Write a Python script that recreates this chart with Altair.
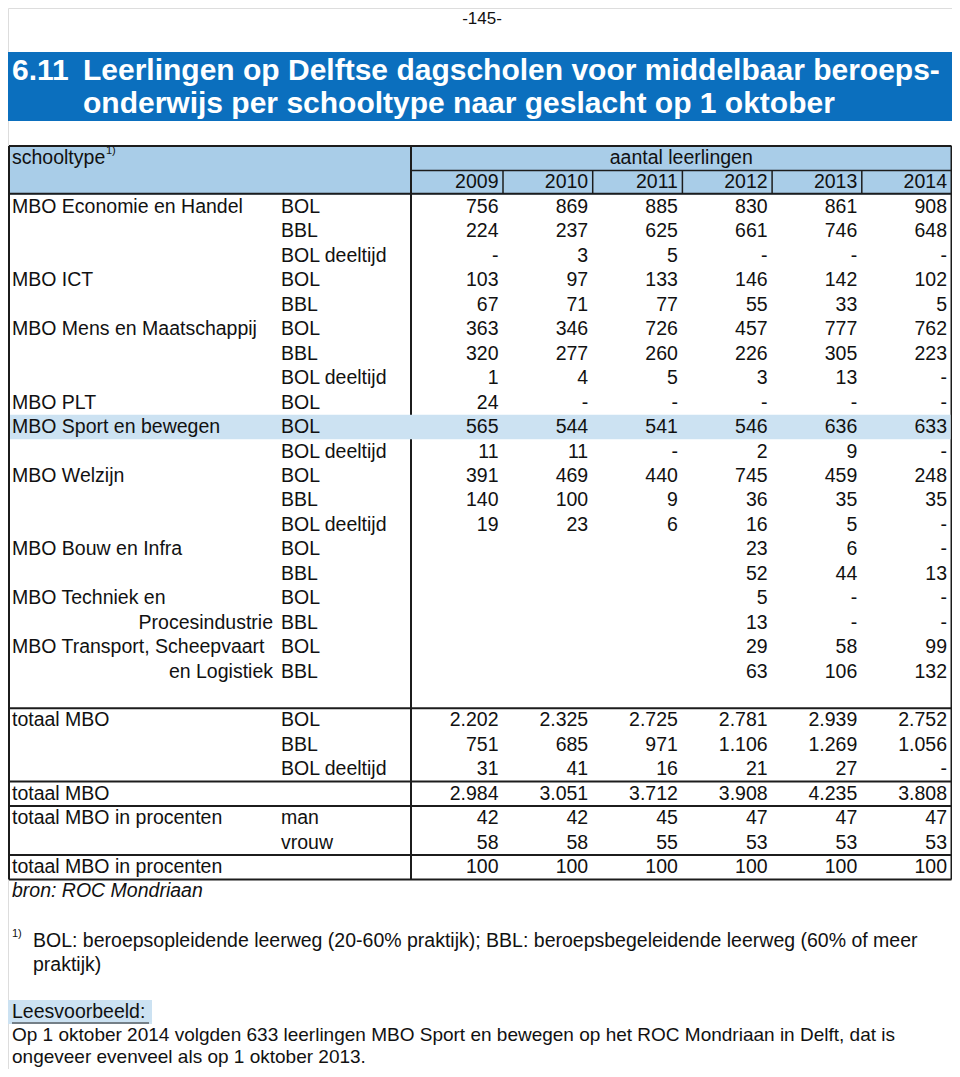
import altair as alt
import pandas as pd

# ---------------- data ----------------
years = ["2009", "2010", "2011", "2012", "2013", "2014"]

schooltype = ["MBO Economie en Handel", "", "", "MBO ICT", "", "MBO Mens en Maatschappij", "", "",
              "MBO PLT", "MBO Sport en bewegen", "", "MBO Welzijn", "", "", "MBO Bouw en Infra", "",
              "MBO Techniek en", "Procesindustrie", "MBO Transport, Scheepvaart", "en Logistiek"]
leerweg = ["BOL", "BBL", "BOL deeltijd", "BOL", "BBL", "BOL", "BBL", "BOL deeltijd", "BOL", "BOL",
           "BOL deeltijd", "BOL", "BBL", "BOL deeltijd", "BOL", "BBL", "BOL", "BBL", "BOL", "BBL"]
right_aligned_labels = ["Procesindustrie", "en Logistiek"]

v2009 = ["756", "224", "-", "103", "67", "363", "320", "1", "24", "565", "11", "391", "140", "19", "", "", "", "", "", ""]
v2010 = ["869", "237", "3", "97", "71", "346", "277", "4", "-", "544", "11", "469", "100", "23", "", "", "", "", "", ""]
v2011 = ["885", "625", "5", "133", "77", "726", "260", "5", "-", "541", "-", "440", "9", "6", "", "", "", "", "", ""]
v2012 = ["830", "661", "-", "146", "55", "457", "226", "3", "-", "546", "2", "745", "36", "16", "23", "52", "5", "13", "29", "63"]
v2013 = ["861", "746", "-", "142", "33", "777", "305", "13", "-", "636", "9", "459", "35", "5", "6", "44", "-", "-", "58", "106"]
v2014 = ["908", "648", "-", "102", "5", "762", "223", "-", "-", "633", "-", "248", "35", "-", "-", "13", "-", "-", "99", "132"]

tot_label1 = ["totaal MBO", "", "", "totaal MBO", "totaal MBO in procenten", "", "totaal MBO in procenten"]
tot_label2 = ["BOL", "BBL", "BOL deeltijd", "", "man", "vrouw", ""]
t2009 = ["2.202", "751", "31", "2.984", "42", "58", "100"]
t2010 = ["2.325", "685", "41", "3.051", "42", "58", "100"]
t2011 = ["2.725", "971", "16", "3.712", "45", "55", "100"]
t2012 = ["2.781", "1.106", "21", "3.908", "47", "53", "100"]
t2013 = ["2.939", "1.269", "27", "4.235", "47", "53", "100"]
t2014 = ["2.752", "1.056", "-", "3.808", "47", "53", "100"]

page_number = "-145-"
title_num = "6.11"
title_lines = ["Leerlingen op Delftse dagscholen voor middelbaar beroeps-",
               "onderwijs per schooltype naar geslacht op 1 oktober"]
header_left = "schooltype"
header_sup = "1)"
header_top = "aantal leerlingen"
source = "bron: ROC Mondriaan"
footnote = ["BOL: beroepsopleidende leerweg (20-60% praktijk); BBL: beroepsbegeleidende leerweg (60% of meer",
            "praktijk)"]
example_head = "Leesvoorbeeld:"
example_text = ["Op 1 oktober 2014 volgden 633 leerlingen MBO Sport en bewegen op het ROC Mondriaan in Delft, dat is",
                "ongeveer evenveel als op 1 oktober 2013."]
highlight_row = "MBO Sport en bewegen"

# ---------------- layout ----------------
FONT = "Liberation Sans"
FS = 19.5
ROW_Y0, ROW_H = 207.0, 24.45
LEFT, RIGHT, MID = 9.0, 951.5, 411.0
SEP0, SEP_STEP = 503.0, 89.7
LBL1_X, LBL2_X, LBL1_RIGHT = 12.0, 281.0, 273.0
TOP_HEADER, HEADER_MID = 146.0, 170.5

def row_y(i):
    return ROW_Y0 + i * ROW_H

def col_right(j):
    return SEP0 + j * SEP_STEP - 4.5

body_cols = [v2009, v2010, v2011, v2012, v2013, v2014]
tot_cols = [t2009, t2010, t2011, t2012, t2013, t2014]
n_body = len(schooltype)
tot_start = n_body + 1
last_row = tot_start + len(tot_label1) - 1

left_txt, right_txt, center_txt = [], [], []

# header
left_txt.append(dict(t=header_left, x=LBL1_X, y=158, s=FS))
left_txt.append(dict(t=header_sup, x=LBL1_X + 94, y=151, s=11))
center_txt.append(dict(t=header_top, x=(MID + RIGHT) / 2, y=158, s=FS))
for j, yr in enumerate(years):
    right_txt.append(dict(t=yr, x=col_right(j), y=182, s=FS))

# body rows
for i in range(n_body):
    y = row_y(i)
    lab = schooltype[i]
    if lab in right_aligned_labels:
        right_txt.append(dict(t=lab, x=LBL1_RIGHT, y=y, s=FS))
    elif lab:
        left_txt.append(dict(t=lab, x=LBL1_X, y=y, s=FS))
    left_txt.append(dict(t=leerweg[i], x=LBL2_X, y=y, s=FS))
    for j, col in enumerate(body_cols):
        if col[i]:
            right_txt.append(dict(t=col[i], x=col_right(j), y=y, s=FS))

# totals
for k in range(len(tot_label1)):
    y = row_y(tot_start + k)
    if tot_label1[k]:
        left_txt.append(dict(t=tot_label1[k], x=LBL1_X, y=y, s=FS))
    if tot_label2[k]:
        left_txt.append(dict(t=tot_label2[k], x=LBL2_X, y=y, s=FS))
    for j, col in enumerate(tot_cols):
        right_txt.append(dict(t=col[k], x=col_right(j), y=y, s=FS))

# footnotes
left_txt.append(dict(t=header_sup, x=LBL1_X, y=934, s=11))
for k, line in enumerate(footnote):
    left_txt.append(dict(t=line, x=33, y=941 + k * 24.0, s=FS))
left_txt.append(dict(t=example_head, x=LBL1_X, y=1012, s=FS))
for k, line in enumerate(example_text):
    left_txt.append(dict(t=line, x=LBL1_X, y=1035 + k * 22.0, s=19))

center_txt.append(dict(t=page_number, x=482, y=19, s=17))

title_txt = [dict(t=title_num, x=12, y=71, s=30)]
for k, line in enumerate(title_lines):
    title_txt.append(dict(t=line, x=83, y=71 + k * 33, s=30))

italic_txt = [dict(t=source, x=LBL1_X, y=891, s=FS)]

# rects
hi = schooltype.index(highlight_row)
rects = [
    dict(x=8, x2=956, y=52, y2=121, c="#0B6FBE"),
    dict(x=LEFT, x2=RIGHT, y=TOP_HEADER, y2=row_y(0) - ROW_H / 2, c="#A9CDE8"),
    dict(x=8, x2=152, y=1000, y2=1024, c="#CCE2F2"),
]
hl_rect = [dict(x=LEFT + 1, x2=RIGHT - 1, y=row_y(hi) - ROW_H / 2, y2=row_y(hi) + ROW_H / 2, c="#CCE2F2")]

# rules
bottom = row_y(last_row) + ROW_H / 2
rules = [
    dict(x=LEFT, x2=LEFT, y=TOP_HEADER, y2=bottom, w=2),
    dict(x=RIGHT, x2=RIGHT, y=TOP_HEADER, y2=bottom, w=2),
    dict(x=MID, x2=MID, y=TOP_HEADER, y2=bottom, w=2),
    dict(x=LEFT, x2=RIGHT, y=TOP_HEADER, y2=TOP_HEADER, w=2),
    dict(x=MID, x2=RIGHT, y=HEADER_MID, y2=HEADER_MID, w=1.5),
    dict(x=LEFT, x2=RIGHT, y=row_y(0) - ROW_H / 2 - 1, y2=row_y(0) - ROW_H / 2 - 1, w=2),
    dict(x=LBL1_X, x2=149, y=1023, y2=1023, w=1),
]
for j in range(len(years) - 1):
    xsep = SEP0 + j * SEP_STEP
    rules.append(dict(x=xsep, x2=xsep, y=HEADER_MID, y2=row_y(0) - ROW_H / 2 - 1, w=1.5))
for r in [n_body, tot_start + 2, tot_start + 3, tot_start + 5, last_row]:
    yy = row_y(r) + ROW_H / 2
    rules.append(dict(x=LEFT, x2=RIGHT, y=yy, y2=yy, w=2))

# ---------------- chart ----------------
W, H = 944, 1061
xs = alt.Scale(domain=[8, 8 + W], nice=False, zero=False)
ys = alt.Scale(domain=[8, 8 + H], nice=False, zero=False, reverse=True)

def rect_layer(rows):
    return alt.Chart(pd.DataFrame(rows)).mark_rect().encode(
        x=alt.X("x:Q", scale=xs, axis=None), x2="x2:Q",
        y=alt.Y("y:Q", scale=ys, axis=None), y2="y2:Q",
        color=alt.Color("c:N", scale=None))

rule_layer = alt.Chart(pd.DataFrame(rules)).mark_rule(color="#1c1c1c").encode(
    x=alt.X("x:Q", scale=xs, axis=None), x2="x2:Q",
    y=alt.Y("y:Q", scale=ys, axis=None), y2="y2:Q",
    strokeWidth=alt.StrokeWidth("w:Q", scale=None))

def text_layer(rows, align, color="#111111", weight="normal", style="normal"):
    return alt.Chart(pd.DataFrame(rows)).mark_text(
        align=align, baseline="middle", font=FONT, color=color,
        fontWeight=weight, fontStyle=style).encode(
        x=alt.X("x:Q", scale=xs, axis=None),
        y=alt.Y("y:Q", scale=ys, axis=None),
        text="t:N",
        size=alt.Size("s:Q", scale=None))

chart = alt.layer(
    rect_layer(rects),
    rule_layer,
    rect_layer(hl_rect),
    text_layer(left_txt, "left"),
    text_layer(right_txt, "right"),
    text_layer(center_txt, "center"),
    text_layer(title_txt, "left", color="#ffffff", weight="bold"),
    text_layer(italic_txt, "left", style="italic"),
).properties(width=W, height=H, padding=0, autosize=alt.AutoSizeParams(type="none")
).configure_view(strokeWidth=0, strokeOpacity=0).configure(background="#ffffff")

chart.save("out.html", embed_options={"renderer": "svg", "actions": False})
